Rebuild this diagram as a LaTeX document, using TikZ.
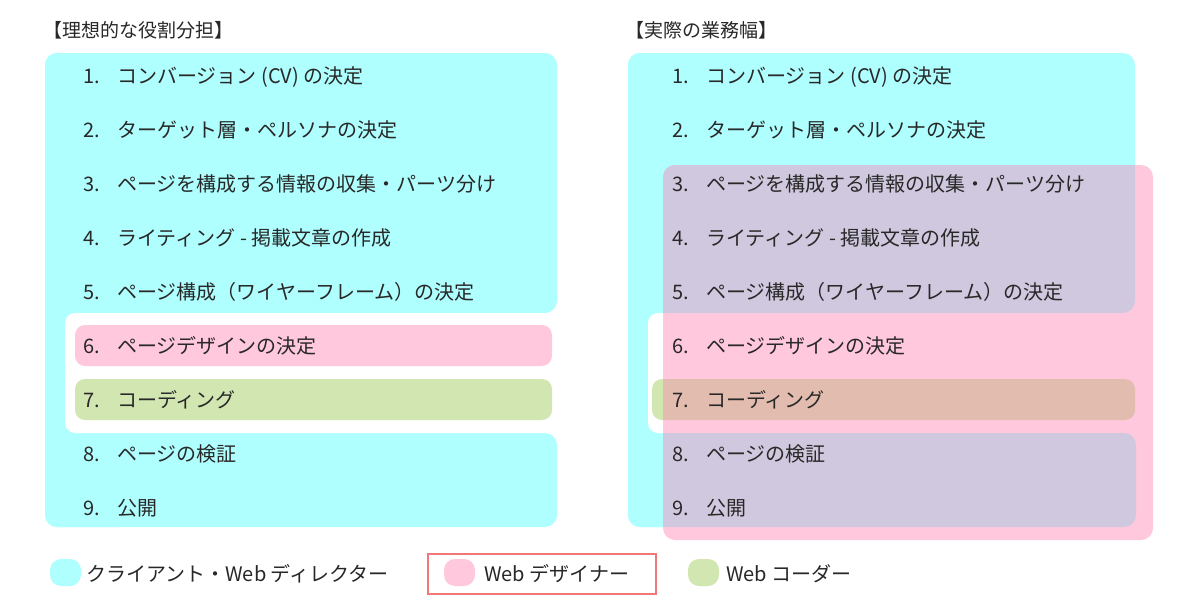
\documentclass[tikz,border=0pt]{standalone}
\usepackage{fontspec}
\setmainfont{Noto Sans CJK JP}
\definecolor{cy}{RGB}{175,255,255}
\definecolor{pk}{RGB}{255,200,220}
\definecolor{gr}{RGB}{210,230,178}
\definecolor{lav}{RGB}{208,200,222}
\definecolor{brn}{RGB}{226,188,174}
\definecolor{txt}{RGB}{40,40,40}
\definecolor{lgred}{RGB}{240,120,120}
\begin{document}
\begin{tikzpicture}[x=1pt,y=-1pt,
  item/.style={anchor=base west, inner sep=0pt, font=\fontsize{20}{24}\selectfont, text=txt},
  ttl/.style={anchor=base west, inner sep=0pt, font=\fontsize{19}{23}\selectfont, text=txt},
  big/.style={rounded corners=12pt},
  small/.style={rounded corners=10pt}]
\useasboundingbox (0,0) rectangle (1200,600);
\fill[white] (0,0) rectangle (1200,600);

% ---------- left panel ----------
\fill[cy,big] (45,53) rectangle (130,527);
\fill[cy,big] (45,53) rectangle (557,313);
\fill[cy,big] (45,433) rectangle (557,527);
\fill[white,small] (65,313) rectangle (600,433);
\fill[pk,small] (75,325) rectangle (552,366);
\fill[gr,small] (75,379) rectangle (552,420);

% ---------- right panel ----------
\fill[cy,big] (628,53) rectangle (720,527);
\fill[cy,big] (628,53) rectangle (1135,313);
\fill[cy,big] (628,433) rectangle (1136,527);
\fill[white,small] (648,313) rectangle (720,433);
\fill[gr,small] (652,379) rectangle (1135,420);
\fill[pk,big] (663,165) rectangle (1153,540);
\begin{scope}
  \clip[big] (663,165) rectangle (1153,540);
  \fill[lav,big] (628,53) rectangle (1135,313);
  \fill[lav,big] (628,433) rectangle (1136,527);
  \fill[brn,small] (652,379) rectangle (1135,420);
\end{scope}

% ---------- titles ----------
\node[ttl] (tL) at (43,37.5) {【理想的な役割分担】};
\node[ttl] (tR) at (625,37.5) {【実際の業務幅】};

% ---------- items ----------
\foreach \n/\t in {1/コンバージョン (CV) の決定,
                   2/ターゲット層・ペルソナの決定,
                   3/ページを構成する情報の収集・パーツ分け,
                   4/ライティング - 掲載文章の作成,
                   5/ページ構成（ワイヤーフレーム）の決定,
                   6/ページデザインの決定,
                   7/コーディング,
                   8/ページの検証,
                   9/公開}{
  \pgfmathsetmacro{\yy}{75+54*(\n-1)+8}
  \node[item] (Ln\n) at (83,\yy) {\n.};
  \node[item] (Lt\n) at (117,\yy) {\t};
  \node[item] (Rn\n) at (672,\yy) {\n.};
  \node[item] (Rt\n) at (706,\yy) {\t};
}

% ---------- legend ----------
\draw[lgred,line width=1.5pt] (428,554) rectangle (656,594);
\fill[cy,rounded corners=11pt] (50,559) rectangle (81,586);
\fill[pk,rounded corners=11pt] (444,559) rectangle (475,586);
\fill[gr,rounded corners=11pt] (688,559) rectangle (719,586);
\node[item] (g1) at (86,581) {クライアント・Web ディレクター};
\node[item] (g2) at (484,581) {Web デザイナー};
\node[item] (g3) at (726,581) {Web コーダー};
\end{tikzpicture}
\end{document}
